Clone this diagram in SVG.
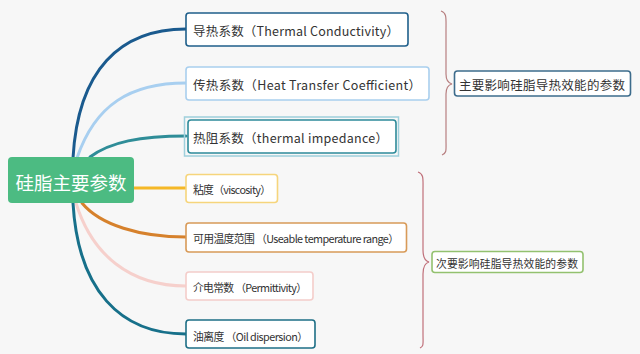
<svg xmlns="http://www.w3.org/2000/svg" width="640" height="354" viewBox="0 0 640 354">
<style>
text{font-family:"Noto Sans CJK SC","Microsoft YaHei",sans-serif;fill:#333;dominant-baseline:central}
.big{font-size:12.5px}
.sm{font-size:10.8px}
.box{fill:#fff;stroke-width:1.6}
.con{fill:none;stroke-width:3;stroke-linecap:round}
.brace{fill:none;stroke-width:1.2}
</style>
<rect width="640" height="354" fill="#f7f7f7"/>
<g id="connectors">
<path class="con" stroke="#1a5a8e" d="M73,158 C78,70 120,29 186,29"/>
<path class="con" stroke="#a8cff0" d="M77,158 C95,105 130,83 186,83"/>
<path class="con" stroke="#2f8d98" d="M90,157 C110,142 140,136 186,136"/>
<path class="con" stroke="#f5b827" d="M134,188 L186,188"/>
<path class="con" stroke="#d6812c" d="M82,203 C100,225 140,237 186,237"/>
<path class="con" stroke="#f6d0cc" d="M76,203 C92,255 130,286 186,286"/>
<path class="con" stroke="#17708a" d="M73,203 C78,290 120,334 186,334"/>
<path class="brace" stroke="#b77f80" d="M441,11 C447,13 446,18 446,30 L446,74 C446,80 448,83 452,84 C448,85 446,88 446,94 L446,140 C446,150 447,153 442,155"/>
<path class="brace" stroke="#c0707a" d="M418,172 C424,174 423,179 423,190 L423,250 C423,257 425,261 429,262 C425,263 423,267 423,274 L423,334 C423,344 424,346 420,348"/>
</g>
<g id="root">
<rect x="8" y="157" width="126" height="46" rx="4" fill="#4cbb82"/>
<text x="71" y="182" text-anchor="middle" style="font-size:18.5px;fill:#fff" textLength="111">硅脂主要参数</text>
</g>
<g id="n1">
<rect class="box" x="186" y="13" width="222" height="33" rx="3" stroke="#1f5f8b"/>
<text class="big" x="193" y="30" textLength="206">导热系数（Thermal Conductivity）</text>
</g>
<g id="n2">
<rect class="box" x="186" y="67" width="243" height="33" rx="3" stroke="#a9cfee"/>
<text class="big" x="193" y="84" textLength="228">传热系数（Heat Transfer Coefficient）</text>
</g>
<g id="n3">
<rect x="184.5" y="117" width="214" height="39" fill="none" stroke="#9fd0dc" stroke-width="1.5"/>
<rect class="box" x="188" y="120" width="208" height="33" rx="3" stroke="#2e8b9a"/>
<text class="big" x="193" y="137" textLength="195">热阻系数（thermal impedance）</text>
</g>
<g id="n4">
<rect class="box" x="186" y="174.5" width="91.5" height="28" rx="3" stroke="#f6d57c"/>
<text class="sm" x="193" y="189" textLength="78">粘度（viscosity）</text>
</g>
<g id="n5">
<rect class="box" x="186" y="223" width="220.5" height="29" rx="3" stroke="#d89a58"/>
<text class="sm" x="193" y="238" textLength="206">可用温度范围 （Useable temperature range）</text>
</g>
<g id="n6">
<rect class="box" x="186" y="272" width="127" height="28" rx="3" stroke="#f4cdca"/>
<text class="sm" x="193" y="287" textLength="114">介电常数 （Permittivity）</text>
</g>
<g id="n7">
<rect class="box" x="186" y="320" width="129" height="28" rx="3" stroke="#1e6f86"/>
<text class="sm" x="193" y="335.5" textLength="115">油离度 （Oil dispersion）</text>
</g>
<g id="s1">
<rect class="box" x="454.5" y="71" width="176" height="25" rx="3" stroke="#3d6c8c"/>
<text x="459" y="84.5" style="font-size:12.5px" textLength="166">主要影响硅脂导热效能的参数</text>
</g>
<g id="s2">
<rect class="box" x="432" y="251.5" width="151" height="21" rx="3" stroke="#93c16f"/>
<text x="436" y="262.5" style="font-size:10.8px" textLength="142">次要影响硅脂导热效能的参数</text>
</g>
</svg>
